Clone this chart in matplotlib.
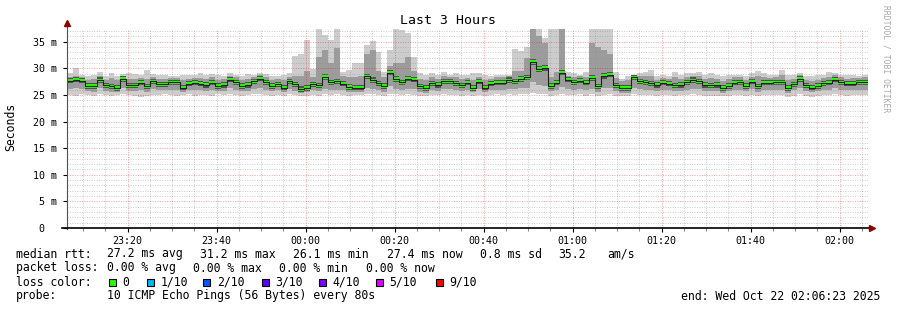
import numpy as np
import matplotlib.pyplot as plt
from matplotlib.ticker import MultipleLocator, FuncFormatter
from matplotlib.patches import Rectangle
from matplotlib.lines import Line2D

plt.rcParams['font.family'] = ['DejaVu Sans Mono', 'DejaVu Sans']

# smokeping, 3 hours, one column every 80 s (values in ms)
med = [27.7, 27.9, 27.7, 26.7, 26.7, 27.8, 26.8, 26.6, 26.3, 28.0, 26.8, 26.8, 27.3, 26.6, 27.6, 27.0, 27.0, 27.4, 27.4, 26.4, 27.1, 27.3, 27.1,
       26.9, 27.3, 26.7, 26.9, 27.9, 27.4, 26.7, 26.9, 27.6, 28.1, 27.4, 26.7, 27.0, 26.4, 27.6, 27.0, 26.1, 26.3, 27.0, 26.8, 28.4, 27.4,
       27.6, 27.1, 26.5, 26.4, 26.4, 28.5, 27.8, 27.2, 26.7, 29.2, 28.0, 27.4, 28.1, 27.9, 26.6, 26.3, 27.2, 26.9, 27.6, 27.6, 27.2, 26.8,
       27.3, 26.3, 27.5, 26.4, 27.1, 27.3, 27.3, 27.8, 27.6, 28.0, 28.3, 31.2, 29.9, 30.1, 26.7, 27.3, 29.2, 27.9, 27.4, 27.7, 27.3, 28.2, 26.6,
       28.6, 28.8, 26.8, 26.3, 26.3, 28.3, 27.6, 27.4, 27.2, 26.9, 27.3, 27.1, 26.8, 26.9, 27.4, 27.8, 27.6, 26.9, 26.8, 26.9, 26.3, 26.7,
       27.3, 27.4, 26.7, 27.5, 26.6, 27.3, 27.3, 27.4, 27.4, 26.3, 27.0, 28.0, 26.8, 26.4, 26.7, 27.2, 27.3, 27.9, 27.4, 27.1, 27.1, 27.4, 27.4]

hi = [29.1, 30.0, 28.8, 28.5, 28.8, 29.4, 28.5, 29.1, 28.5, 29.0, 29.1, 29.0, 28.8, 29.7, 29.0, 28.8, 28.8, 28.6, 28.5, 28.8, 28.8, 28.8, 29.1,
      28.8, 28.9, 28.8, 28.6, 29.1, 28.8, 28.6, 28.9, 28.8, 29.2, 29.0, 28.5, 28.5, 28.8, 29.1, 32.3, 32.8, 35.3, 29.8, 37.6, 36.3, 35.3,
      37.6, 29.4, 29.7, 31.1, 31.1, 34.4, 35.2, 33.1, 29.4, 33.5, 37.6, 37.2, 36.7, 32.1, 29.1, 28.8, 29.1, 28.8, 29.4, 28.8, 29.1, 28.8,
      28.8, 29.1, 29.1, 28.8, 28.5, 28.8, 28.8, 28.8, 33.6, 33.3, 34.1, 37.6, 37.6, 35.7, 37.6, 37.6, 37.6, 29.4, 29.1, 28.8, 29.4, 37.6, 37.6,
      37.6, 37.6, 29.4, 28.1, 28.5, 28.8, 29.1, 29.4, 29.7, 28.5, 28.8, 28.5, 29.4, 28.8, 29.1, 29.1, 29.4, 28.8, 29.1, 28.8, 28.5, 28.8,
      28.8, 28.8, 28.6, 29.1, 29.6, 29.1, 28.8, 28.8, 29.7, 28.8, 28.8, 29.1, 28.6, 28.5, 28.8, 28.8, 29.4, 29.2, 28.8, 28.8, 28.8, 28.6, 28.8]

hi2 = [28.4, 28.6, 28.3, 27.8, 28.0, 28.5, 27.9, 28.2, 27.8, 28.5, 28.0, 28.0, 28.2, 28.0, 28.4, 28.1, 28.1, 28.2, 28.2, 27.8, 28.1, 28.2, 28.2,
       28.0, 28.3, 27.9, 28.0, 28.6, 28.3, 27.9, 28.1, 28.3, 28.7, 28.3, 27.9, 28.0, 27.8, 28.4, 28.6, 28.6, 29.5, 28.4, 32.2, 33.5, 31.0,
       33.8, 28.5, 28.4, 28.3, 28.5, 32.8, 33.5, 29.5, 28.4, 30.5, 31.0, 31.0, 32.2, 29.6, 28.0, 27.8, 28.3, 28.0, 28.5, 28.3, 28.3, 28.0,
       28.2, 27.8, 28.4, 27.9, 28.1, 28.3, 28.3, 28.6, 29.5, 29.5, 31.9, 37.5, 36.0, 34.8, 28.4, 29.4, 37.5, 28.6, 28.3, 28.5, 28.4, 34.7, 34.0,
       33.5, 32.8, 28.2, 27.6, 27.8, 28.8, 28.5, 28.5, 28.6, 27.9, 28.2, 28.0, 28.4, 28.1, 28.4, 28.6, 28.6, 28.0, 28.2, 28.0, 27.7, 28.0,
       28.3, 28.3, 27.9, 28.4, 28.5, 28.3, 28.2, 28.3, 28.7, 27.8, 28.1, 28.8, 27.9, 27.7, 27.9, 28.2, 28.4, 28.7, 28.3, 28.1, 28.2, 28.2, 28.3]

lo = [25.0, 24.9, 25.1, 25.0, 24.8, 25.1, 25.0, 24.9, 25.0, 25.2, 25.0, 24.8, 24.7, 24.8, 25.0, 25.0, 25.1, 25.0, 24.9, 25.0, 25.1, 24.9, 25.0,
      25.0, 24.9, 25.1, 25.0, 25.2, 25.0, 24.9, 25.0, 25.1, 25.2, 25.0, 24.9, 25.0, 24.9, 25.1, 25.0, 24.8, 24.9, 25.0, 24.9, 25.2, 25.0,
      25.1, 25.0, 24.9, 25.0, 25.0, 25.2, 25.1, 25.0, 24.9, 25.2, 25.1, 25.0, 25.1, 25.0, 24.9, 24.8, 25.0, 25.0, 25.1, 25.0, 25.0, 24.9,
      25.0, 24.8, 25.0, 24.9, 25.0, 25.1, 25.0, 25.1, 25.0, 25.1, 25.1, 25.3, 25.2, 25.1, 24.8, 25.0, 25.1, 25.0, 25.0, 25.1, 24.9, 25.1, 24.8,
      25.0, 25.1, 24.9, 24.8, 24.9, 25.1, 25.0, 25.0, 25.0, 24.9, 25.0, 25.0, 24.9, 25.0, 25.0, 25.1, 25.0, 24.9, 24.8, 24.9, 24.8, 24.9,
      25.0, 25.0, 24.8, 25.0, 24.9, 25.0, 25.0, 25.0, 25.0, 24.7, 24.9, 25.1, 24.8, 24.6, 24.9, 25.0, 25.0, 25.1, 25.0, 24.9, 25.0, 25.0, 25.0]

lo2 = [26.2, 26.3, 26.2, 25.7, 25.6, 26.3, 25.8, 25.6, 25.5, 26.4, 25.8, 25.7, 26.0, 25.6, 26.1, 25.9, 25.9, 26.0, 26.0, 25.5, 25.9, 26.0, 25.9,
       25.8, 26.0, 25.7, 25.8, 26.3, 26.0, 25.7, 25.8, 26.1, 26.4, 26.0, 25.7, 25.9, 25.5, 26.1, 25.8, 25.4, 25.5, 25.9, 25.7, 26.2, 25.9,
       26.0, 25.9, 25.6, 25.5, 25.5, 26.4, 26.1, 25.9, 25.6, 26.6, 26.1, 25.9, 26.2, 26.1, 25.6, 25.4, 25.9, 25.8, 26.1, 26.1, 25.9, 25.7,
       26.0, 25.5, 26.1, 25.5, 25.9, 26.0, 26.0, 26.2, 26.1, 26.3, 26.4, 27.4, 26.8, 26.6, 25.7, 26.0, 26.5, 26.2, 26.0, 26.1, 25.9, 26.2, 25.6,
       26.3, 26.4, 25.8, 25.4, 25.4, 26.3, 26.1, 26.0, 25.9, 25.8, 26.0, 25.9, 25.7, 25.8, 26.0, 26.2, 26.1, 25.8, 25.7, 25.8, 25.4, 25.7,
       26.0, 26.0, 25.7, 26.1, 25.6, 26.0, 26.0, 26.0, 26.0, 25.4, 25.9, 26.3, 25.7, 25.5, 25.7, 25.9, 26.0, 26.3, 26.0, 25.9, 25.9, 26.0, 26.0]

loss_labels = ['0', '1/10', '2/10', '3/10', '4/10', '5/10', '9/10']
loss_colors = ['#26ff00', '#00b8ff', '#0059ff', '#5e00ff', '#7e00ff', '#dd00ff', '#ff0000']

rtt_items = ['median rtt:', '27.2 ms avg', '31.2 ms max', '26.1 ms min', '27.4 ms now', '0.8 ms sd', '35.2', 'am/s']
loss_items = ['packet loss:', '0.00 % avg', '0.00 % max', '0.00 % min', '0.00 % now']
probe_text = '10 ICMP Echo Pings (56 Bytes) every 80s'
end_text = 'end: Wed Oct 22 02:06:23 2025'

# time axis in minutes from midnight, start 23:06:23
t0 = -(53 + 37 / 60.0)
step = 80 / 60.0
edges = t0 + np.arange(len(med) + 1) * step

def ext(a):
    a = np.asarray(a, float)
    return np.append(a, a[-1])

W, H = 897, 310
fig = plt.figure(figsize=(W / 100, H / 100), dpi=100)
ax = fig.add_axes([67 / W, (H - 228) / H, (868 - 67) / W, (228 - 28.5) / H])
ax.set_xlim(t0, t0 + 180)
ax.set_ylim(0, 37.5)

m = ext(med)
ax.fill_between(edges, ext(lo), ext(hi), step='post', color='#cdcdcd', lw=0)
ax.fill_between(edges, ext(lo2), ext(hi2), step='post', color='#9c9c9c', lw=0)
ax.fill_between(edges, m - 0.5, m + 0.5, step='post', color='#505050', lw=0)
ax.step(edges, m, where='post', color='#202020', lw=0.8)
ax.fill_between(edges, m - 0.3, m + 0.3, step='post', color=loss_colors[0], lw=0)

# grid
ax.xaxis.set_major_locator(MultipleLocator(20))
ax.xaxis.set_minor_locator(MultipleLocator(5))
ax.yaxis.set_major_locator(MultipleLocator(5))
ax.yaxis.set_minor_locator(MultipleLocator(1))
ax.grid(which='minor', color='#8c8c8c', alpha=0.45, ls=(0, (1, 1.5)), lw=0.7)
ax.grid(which='major', color='#ff0000', alpha=0.38, ls=(0, (1, 1.5)), lw=0.7)
for gl in ax.get_xgridlines() + ax.get_ygridlines():
    gl.set_zorder(6)

def tfmt(v, pos):
    v = int(round(v)) % 1440
    return '%02d:%02d' % (v // 60, v % 60)

def yfmt(v, pos):
    if abs(v) < 1e-9:
        return '0  '
    return '%d m' % round(v)

ax.xaxis.set_major_formatter(FuncFormatter(tfmt))
ax.yaxis.set_major_formatter(FuncFormatter(yfmt))
ax.tick_params(which='both', labelsize=7.2, colors='#000000', width=0.8)
ax.tick_params(axis='x', which='major', length=3, pad=3)
ax.tick_params(axis='x', which='minor', length=2, color='#888888')
ax.tick_params(axis='y', which='major', length=3, pad=4)
ax.tick_params(axis='y', which='minor', length=0)
for s in ['top', 'right', 'left', 'bottom']:
    ax.spines[s].set_visible(False)

# overlay in pixel coordinates for axes lines, arrows and legend
ov = fig.add_axes([0, 0, 1, 1], facecolor='none')
ov.set_xlim(0, W)
ov.set_ylim(H, 0)
ov.axis('off')
ov.add_line(Line2D([66.5, 66.5], [229, 25], color='#505050', lw=0.8))
ov.add_line(Line2D([62, 869], [228.3, 228.3], color='#000000', lw=1.2))
ov.plot([66.5], [22.5], marker='^', ms=4.5, color='#8b0000', mec='#8b0000')
ov.plot([871.5], [228.3], marker='>', ms=4.5, color='#8b0000', mec='#8b0000')

ov.text(448, 20, 'Last 3 Hours', ha='center', va='center', fontsize=9.5)
ov.text(11, 127, 'Seconds', ha='center', va='center', rotation=90, fontsize=8.3)
ov.text(886, 5, 'RRDTOOL / TOBI OETIKER', ha='center', va='top', rotation=270,
        fontsize=5.8, color='#a8a8a8')

fs = 8.3
rtt_x = [16, 107.3, 200.3, 293.3, 386.7, 480, 558.3, 607.7]
for x, s in zip(rtt_x, rtt_items):
    ov.text(x, 257.5, s, ha='left', va='baseline', fontsize=fs)
loss_x = [16, 107.3, 193.3, 279.3, 365.7]
for x, s in zip(loss_x, loss_items):
    ov.text(x, 271.5, s, ha='left', va='baseline', fontsize=fs)
ov.text(16, 285.5, 'loss color:', ha='left', va='baseline', fontsize=fs)
box_x = [108.7, 146.7, 203.3, 262, 318.7, 376, 436]
for x, lab, col in zip(box_x, loss_labels, loss_colors):
    ov.add_patch(Rectangle((x, 278.5), 7, 7, facecolor=col, edgecolor='#000000', lw=0.8))
    ov.text(x + 13.5, 285.5, lab, ha='left', va='baseline', fontsize=fs)
ov.text(16, 299.5, 'probe:', ha='left', va='baseline', fontsize=fs)
ov.text(107.3, 299.5, probe_text, ha='left', va='baseline', fontsize=fs)
ov.text(880, 299.5, end_text, ha='right', va='baseline', fontsize=fs)

fig.savefig('out.png', dpi=100)
